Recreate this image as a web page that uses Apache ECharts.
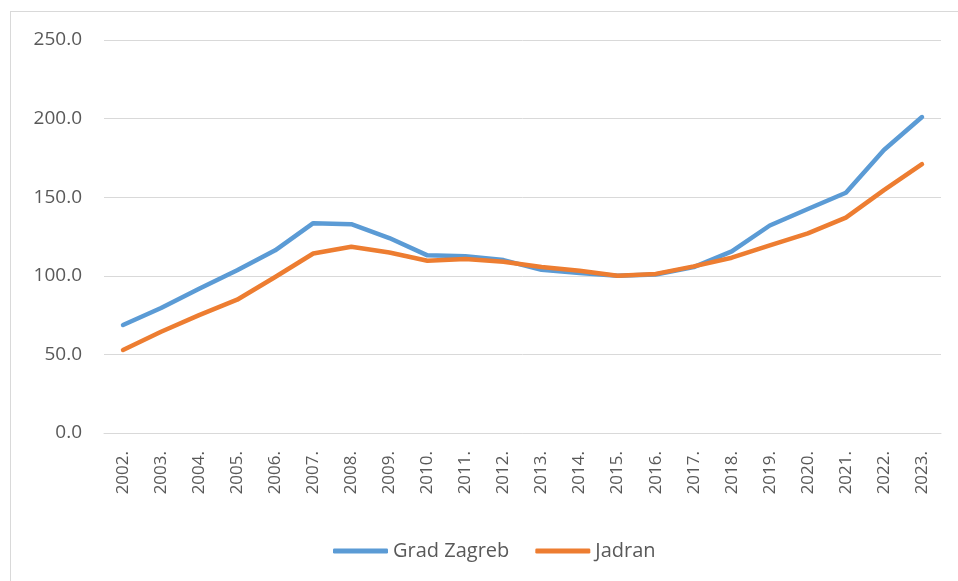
<!DOCTYPE html>
<html>
<head>
<meta charset="utf-8">
<script src="https://cdn.jsdelivr.net/npm/echarts@6/dist/echarts.min.js"></script>
<style>
  html, body { margin: 0; padding: 0; background: #fff; }
  #frame {
    position: absolute; left: 10px; top: 11px; width: 960px; height: 580px;
    border-left: 1px solid #d9d9d9; border-top: 1px solid #d9d9d9;
  }
  #chart { position: absolute; left: 0; top: 0; width: 958px; height: 581px; }
</style>
</head>
<body>
<div id="frame"></div>
<div id="chart"></div>
<script>
const years = ['2002.', '2003.', '2004.', '2005.', '2006.', '2007.', '2008.', '2009.', '2010.', '2011.',
  '2012.', '2013.', '2014.', '2015.', '2016.', '2017.', '2018.', '2019.', '2020.', '2021.', '2022.', '2023.']

const gradZagreb = [68.7, 79.5, 91.8, 103.5, 116.2, 133.5, 132.8, 124, 113, 112.5,
  110, 103.8, 101.8, 100, 100.8, 105.5, 115.5, 132, 142.5, 152.8, 180, 201]

const jadran = [52.8, 64.4, 75, 84.8, 99.2, 114.2, 118.5, 114.8, 109.6, 110.7,
  109, 105.6, 103.2, 100, 101.2, 106, 111.5, 119.4, 127, 137, 154.5, 171]

const yTicks = [0, 50, 100, 150, 200, 250]

const font = 'Open Sans'
const chart = echarts.init(document.getElementById('chart'))

function lineSeries(name, data, color) {
  return {
    name: name,
    type: 'line',
    data: data,
    showSymbol: false,
    symbol: 'none',
    lineStyle: { color: color, width: 4.5, cap: 'round', join: 'round' },
    itemStyle: { color: color }
  }
}

chart.setOption({
  animation: false,
  textStyle: { fontFamily: font },
  legend: {
    top: 536,
    left: 328,
    itemWidth: 55,
    itemHeight: 5,
    itemGap: 26,
    icon: 'roundRect',
    textStyle: { color: '#595959', fontSize: 20, fontFamily: font },
    data: ['Grad Zagreb', 'Jadran']
  },
  grid: { left: 104, right: 17, top: 40, bottom: 148 },
  xAxis: {
    type: 'category',
    data: years,
    boundaryGap: true,
    axisLine: { show: true, lineStyle: { color: '#d9d9d9', width: 1 } },
    axisTick: { show: false },
    axisLabel: { rotate: 90, color: '#595959', fontSize: 17, margin: 18, interval: 0 }
  },
  yAxis: {
    type: 'value',
    min: yTicks[0],
    max: yTicks[yTicks.length - 1],
    interval: 50,
    axisLine: { show: false },
    axisTick: { show: false },
    splitLine: { lineStyle: { color: '#d9d9d9', width: 1 } },
    axisLabel: {
      color: '#595959', fontSize: 19, margin: 22,
      formatter: v => v.toFixed(1)
    }
  },
  series: [
    lineSeries('Grad Zagreb', gradZagreb, '#5b9bd5'),
    lineSeries('Jadran', jadran, '#ed7d31')
  ]
})
</script>
</body>
</html>
